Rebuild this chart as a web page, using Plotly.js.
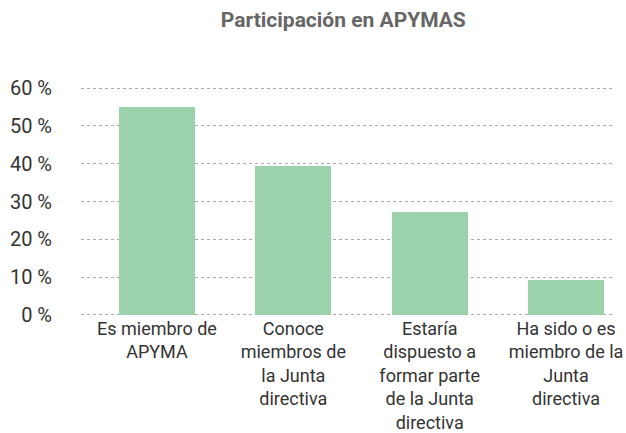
<!DOCTYPE html>
<html><head><meta charset="utf-8">
<script src="https://cdn.plot.ly/plotly-3.0.1.min.js"></script>
<style>html,body{margin:0;padding:0;background:#fff;}#chart{width:626px;height:433px;}</style>
</head><body><div id="chart"></div>
<script>
const categories = ["Es miembro de<br>APYMA", "Conoce<br>miembros de<br>la Junta<br>directiva", "Estaría<br>dispuesto a<br>formar parte<br>de la Junta<br>directiva", "Ha sido o es<br>miembro de la<br>Junta<br>directiva"];
const values = [55, 39.3, 27.1, 9.2];
const yTicks = [0, 10, 20, 30, 40, 50, 60];
const yTickLabels = ["0 %", "10 %", "20 %", "30 %", "40 %", "50 %", "60 %"];
const FONT = 'Roboto, "Liberation Sans", sans-serif';
Plotly.newPlot('chart', [{
  type: 'bar', x: [0,1,2,3], y: values, width: 0.557,
  marker: {color: '#9bd1ab'}, hoverinfo: 'none'
}], {
  width: 626, height: 433,
  margin: {l: 81, r: 14, t: 87, b: 117},
  paper_bgcolor: '#fff', plot_bgcolor: '#fff',
  font: {family: FONT, size: 18, color: '#333'},
  title: {text: 'Participación en APYMAS', font: {family: FONT, size: 21, color: '#666', weight: 'bold'}, x: 0.494, xref: 'paper', y: 0.955, yref: 'container', yanchor: 'middle'},
  showlegend: false, bargap: 0,
  xaxis: {range: [-0.557, 3.337], tickvals: [0,1,2,3], ticktext: categories, showgrid: false, zeroline: false, showline: false, ticks: '', tickfont: {size: 18, color: '#333'}, fixedrange: true},
  yaxis: {range: [-0.3, 60.3], tickvals: yTicks, ticktext: yTickLabels, showgrid: true, gridcolor: '#aaa', gridwidth: 1, griddash: 'dot', zeroline: false, showline: false, ticks: '', ticklabelstandoff: 28, tickfont: {size: 20, color: '#333'}, fixedrange: true}
}, {staticPlot: true});
</script></body></html>
